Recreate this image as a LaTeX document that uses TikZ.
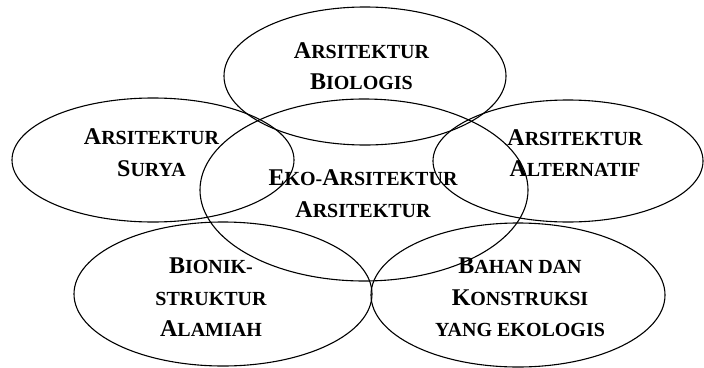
\documentclass[tikz,border=0pt]{standalone}
\usepackage{fontspec}
\setmainfont{Liberation Serif}
\usetikzlibrary{shapes.geometric}

\newcommand{\kap}[2]{{\fontsize{24}{31.5}\selectfont #1}{\fontsize{20}{31.5}\selectfont #2}}
\newcommand{\kecil}[1]{{\fontsize{20}{31.5}\selectfont #1}}

\begin{document}
\begin{tikzpicture}[x=1pt, y=-1pt,
    ring/.style={ellipse, draw, line width=1.1pt, inner sep=0pt},
    txt/.style={align=center, inner sep=0pt, font=\bfseries\fontsize{24}{31.5}\selectfont}
]
\useasboundingbox (0,0) rectangle (704,367);

% Define ellipses
\node[ring, minimum width=282, minimum height=138] (bio) at (365, 76) {};
\node[ring, minimum width=282, minimum height=124] (surya) at (153, 160) {};
\node[ring, minimum width=270, minimum height=122] (alt) at (568, 161) {};
\node[ring, minimum width=328, minimum height=182] (eko) at (364, 190) {};
\node[ring, minimum width=298, minimum height=144] (bionik) at (223, 294) {};
\node[ring, minimum width=294, minimum height=144] (bahan) at (518, 295) {};

% Define labels
\node[txt] (tbio) at (361.5, 66) {\kap{A}{RSITEKTUR}\\ \kap{B}{IOLOGIS}};
\node[txt] (tsurya) at (151.5, 152.5) {\kap{A}{RSITEKTUR}\\ \kap{S}{URYA}};
\node[txt] (talt) at (575, 153) {\kap{A}{RSITEKTUR}\\ \kap{A}{LTERNATIF}};
\node[txt] (teko) at (363, 193.5) {\kap{E}{KO-}\kap{A}{RSITEKTUR}\\ \kap{A}{RSITEKTUR}};
\node[txt] (tbionik) at (211, 297.5) {\kap{B}{IONIK-}\\ \kecil{STRUKTUR}\\ \kap{A}{LAMIAH}};
\node[txt] (tbahan) at (520, 297.5) {\kap{B}{AHAN DAN}\\ \kap{K}{ONSTRUKSI}\\ \kecil{YANG EKOLOGIS}};

\end{tikzpicture}
\end{document}
